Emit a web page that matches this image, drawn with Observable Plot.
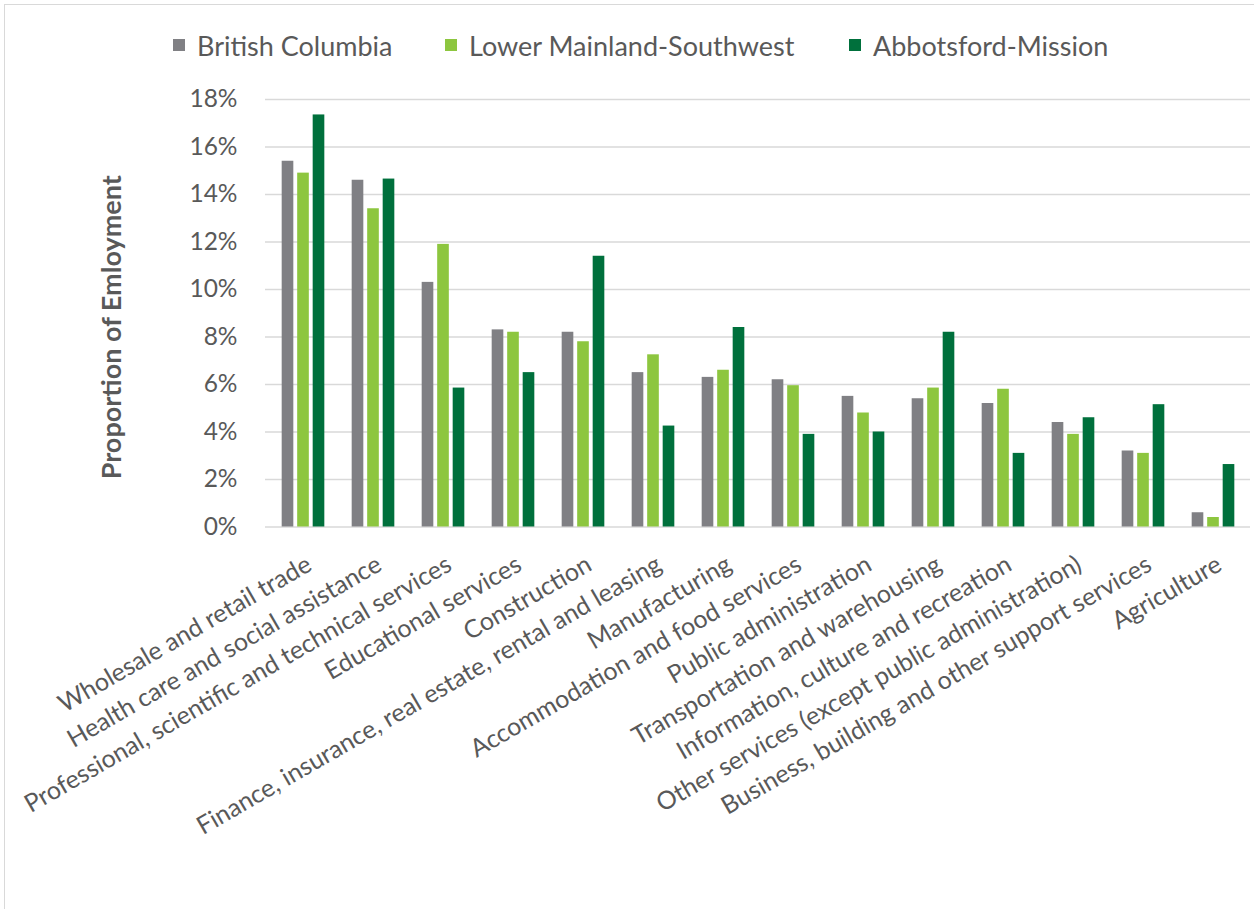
<!DOCTYPE html>
<html>
<head>
<meta charset="utf-8">
<script src="https://cdn.jsdelivr.net/npm/d3@7"></script>
<script src="https://cdn.jsdelivr.net/npm/@observablehq/plot@0.6"></script>
<style>
  html, body { margin: 0; padding: 0; background: #fff; }
  body { width: 1254px; height: 909px; position: relative; overflow: hidden; font-family: Lato, "Open Sans", sans-serif; }
  #frame { position: absolute; left: 4px; top: 4px; right: 0; bottom: 0; border-left: 1.5px solid #d9d9d9; border-top: 1.5px solid #d9d9d9; }
  .lg { position: absolute; top: 29px; height: 32px; display: flex; align-items: center; color: #595959; font-size: 27px; white-space: nowrap; }
  .lg .sw { width: 12px; height: 12px; display: inline-block; margin-right: 12px; }
  #chart { position: absolute; left: 0; top: 70px; }
</style>
</head>
<body>
<div id="frame"></div>
<div id="legend"></div>
<div id="chart"></div>
<script>
// ---- data ----
const categories = [
  "Wholesale and retail trade",
  "Health care and social assistance",
  "Professional, scientific and technical services",
  "Educational services",
  "Construction",
  "Finance, insurance, real estate, rental and leasing",
  "Manufacturing",
  "Accommodation and food services",
  "Public administration",
  "Transportation and warehousing",
  "Information, culture and recreation",
  "Other services (except public administration)",
  "Business, building and other support services",
  "Agriculture"
];
const seriesNames = ["British Columbia", "Lower Mainland-Southwest", "Abbotsford-Mission"];
const britishColumbia = [15.4, 14.6, 10.3, 8.3, 8.2, 6.5, 6.3, 6.2, 5.5, 5.4, 5.2, 4.4, 3.2, 0.6];
const lowerMainland   = [14.9, 13.4, 11.9, 8.2, 7.8, 7.25, 6.6, 5.95, 4.8, 5.85, 5.8, 3.9, 3.1, 0.4];
const abbotsford      = [17.35, 14.65, 5.85, 6.5, 11.4, 4.25, 8.4, 3.9, 4.0, 8.2, 3.1, 4.6, 5.15, 2.63];
const yTicks = [0, 2, 4, 6, 8, 10, 12, 14, 16, 18];
const colors = ["#808084", "#8DC63F", "#00703C"];
const yTitle = "Proportion of Emloyment";

// ---- legend ----
const legendLeft = [173, 445, 849];
const legend = document.getElementById("legend");
seriesNames.forEach((name, i) => {
  const el = document.createElement("div");
  el.className = "lg";
  el.style.left = legendLeft[i] + "px";
  el.innerHTML = `<span class="sw" style="background:${colors[i]}"></span><span>${name}</span>`;
  legend.appendChild(el);
});

// ---- chart ----
const seriesValues = [britishColumbia, lowerMainland, abbotsford];
const rows = seriesValues.map((vals) => categories.map((c, j) => ({category: c, value: vals[j]})));

const W = 1254, H = 839, mL = 265, mR = 4, mT = 29, mB = 382.5;
const band = (W - mL - mR) / categories.length;
const barW = 12, barStep = 15.5;
const groupW = barStep * 2 + barW;

const barMarks = rows.map((data, i) => {
  const insetLeft = band / 2 - groupW / 2 + barStep * i;
  const insetRight = band - insetLeft - barW;
  return Plot.barY(data, {x: "category", y: "value", fill: colors[i], insetLeft, insetRight});
});

const chart = Plot.plot({
  width: W,
  height: H,
  marginLeft: mL,
  marginRight: mR,
  marginTop: mT,
  marginBottom: mB,
  style: {fontFamily: "Lato, 'Open Sans', sans-serif", color: "#595959", background: "transparent", overflow: "visible"},
  x: {type: "band", domain: categories, padding: 0, axis: null},
  y: {domain: [0, 18], axis: null},
  marks: [
    Plot.ruleY(yTicks, {stroke: "#d9d9d9", strokeWidth: 1.5}),
    ...barMarks,
    Plot.axisY({ticks: yTicks, tickFormat: (d) => d + "%", tickSize: 0, tickPadding: 28, fontSize: 24.5, label: null}),
    Plot.text(categories, {x: (d) => d, text: (d) => d, frameAnchor: "bottom", rotate: -30, textAnchor: "end", lineAnchor: "top", dx: 1, dy: 27, fontSize: 25, fill: "#595959"}),
    Plot.text([yTitle], {text: (d) => d, frameAnchor: "left", textAnchor: "middle", rotate: -90, dx: -153, dy: 14, fontSize: 27, fontWeight: "bold", fill: "#595959"})
  ]
});
document.getElementById("chart").appendChild(chart);
</script>
</body>
</html>
